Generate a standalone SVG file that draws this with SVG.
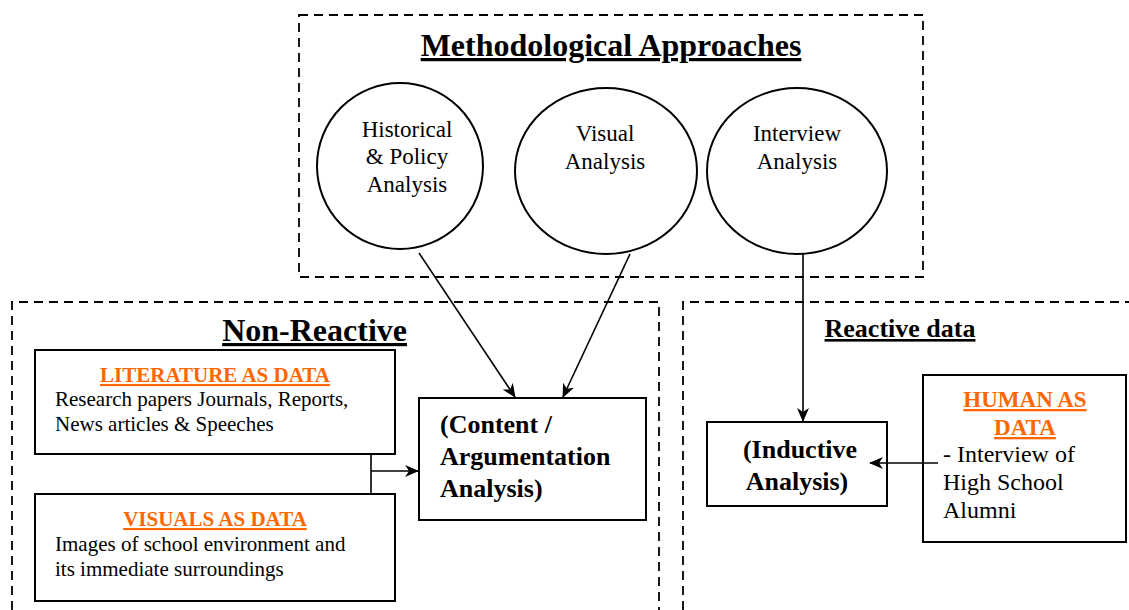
<svg xmlns="http://www.w3.org/2000/svg" width="1129" height="610" viewBox="0 0 1129 610">
<defs>
<style>
.dash{fill:none;stroke:#000;stroke-width:1.8;stroke-dasharray:9,6}
.box{fill:#fff;stroke:#000;stroke-width:2}
.ell{fill:#fff;stroke:#000;stroke-width:2}
.t{font-family:"Liberation Serif","Times New Roman",serif;fill:#000}
.b{font-weight:bold}
.u{text-decoration:underline}
.or{fill:#ff6600;font-weight:bold;text-decoration:underline}
.ln{fill:none;stroke:#000;stroke-width:1.6}
</style>
<marker id="ah" viewBox="0 0 14 12" refX="13" refY="6" markerWidth="14" markerHeight="12" markerUnits="userSpaceOnUse" orient="auto">
<path d="M0,0 L14,6 L0,12 L4,6 z" fill="#000"/>
</marker>
</defs>
<g id="methodological">
<rect class="dash" x="299" y="15" width="624" height="262"/>
<text class="t b u" x="611" y="56" font-size="32" text-anchor="middle">Methodological Approaches</text>
</g>
<g id="historical">
<ellipse class="ell" cx="400" cy="166" rx="83" ry="83"/>
<text class="t" x="407" y="137" font-size="23" text-anchor="middle">Historical</text>
<text class="t" x="407" y="164" font-size="23" text-anchor="middle">&amp; Policy</text>
<text class="t" x="407" y="192" font-size="23" text-anchor="middle">Analysis</text>
</g>
<g id="visual">
<ellipse class="ell" cx="606" cy="171" rx="91" ry="83"/>
<text class="t" x="605" y="141" font-size="23" text-anchor="middle">Visual</text>
<text class="t" x="605" y="169" font-size="23" text-anchor="middle">Analysis</text>
</g>
<g id="interview">
<ellipse class="ell" cx="797" cy="171" rx="90" ry="83"/>
<text class="t" x="797" y="141" font-size="23" text-anchor="middle">Interview</text>
<text class="t" x="797" y="169" font-size="23" text-anchor="middle">Analysis</text>
</g>
<g id="nonreactive">
<path class="dash" d="M12,610 V302 H659 V610"/>
<text class="t b u" x="407" y="341" font-size="32" text-anchor="end">Non-Reactive</text>
</g>
<g id="reactive">
<path class="dash" d="M683,610 V302 H1129"/>
<text class="t b u" x="900" y="337" font-size="26" text-anchor="middle">Reactive data</text>
</g>
<g id="literature">
<rect class="box" x="35" y="350" width="360" height="104"/>
<text class="t or" x="215" y="382" font-size="21" text-anchor="middle">LITERATURE AS DATA</text>
<text class="t" x="55" y="406" font-size="21">Research papers Journals, Reports,</text>
<text class="t" x="55" y="431" font-size="21">News articles &amp; Speeches</text>
</g>
<g id="visuals">
<rect class="box" x="35" y="494" width="360" height="107"/>
<text class="t or" x="215" y="526" font-size="21" text-anchor="middle">VISUALS AS DATA</text>
<text class="t" x="55" y="551" font-size="21">Images of school environment and</text>
<text class="t" x="55" y="576" font-size="21">its immediate surroundings</text>
</g>
<g id="content">
<rect class="box" x="419" y="398" width="227" height="122"/>
<text class="t b" x="440" y="433" font-size="26">(Content /</text>
<text class="t b" x="440" y="465" font-size="26">Argumentation</text>
<text class="t b" x="440" y="497" font-size="26">Analysis)</text>
</g>
<g id="inductive">
<rect class="box" x="707" y="422" width="180" height="84"/>
<text class="t b" x="800" y="458" font-size="26" text-anchor="middle">(Inductive</text>
<text class="t b" x="797" y="490" font-size="26" text-anchor="middle">Analysis)</text>
</g>
<g id="human">
<rect class="box" x="923" y="375" width="203" height="167"/>
<text class="t or" x="1025" y="407" font-size="23" text-anchor="middle">HUMAN AS</text>
<text class="t or" x="1025" y="435" font-size="23" text-anchor="middle">DATA</text>
<text class="t" x="943" y="462" font-size="24">- Interview of</text>
<text class="t" x="943" y="490" font-size="24">High School</text>
<text class="t" x="943" y="518" font-size="24">Alumni</text>
</g>
<g id="connectors">
<line class="ln" x1="419" y1="253" x2="515" y2="397" marker-end="url(#ah)"/>
<line class="ln" x1="630" y1="254" x2="563" y2="397" marker-end="url(#ah)"/>
<line class="ln" x1="803" y1="254" x2="803" y2="421" marker-end="url(#ah)"/>
<line class="ln" x1="371" y1="454" x2="371" y2="494"/>
<line class="ln" x1="371" y1="471" x2="418" y2="471" marker-end="url(#ah)"/>
<line class="ln" x1="938" y1="463" x2="870" y2="463" marker-end="url(#ah)"/>
</g>
</svg>
